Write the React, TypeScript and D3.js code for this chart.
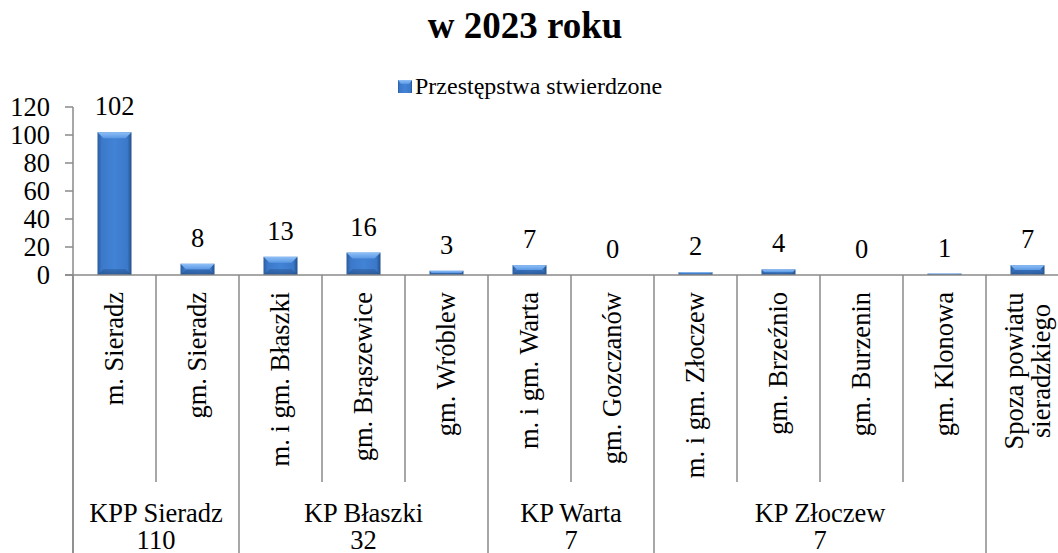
import React from "react";
import * as d3 from "d3";

const categories = [
  "m. Sieradz",
  "gm. Sieradz",
  "m. i gm. Błaszki",
  "gm. Brąszewice",
  "gm. Wróblew",
  "m. i gm. Warta",
  "gm. Gozczanów",
  "m. i gm. Złoczew",
  "gm. Brzeźnio",
  "gm. Burzenin",
  "gm. Klonowa",
  "Spoza powiatu\nsieradzkiego",
];
const values = [102, 8, 13, 16, 3, 7, 0, 2, 4, 0, 1, 7];
const groupNames = ["KPP Sieradz", "KP Błaszki", "KP Warta", "KP Złoczew", ""];
const groupTotals = ["110", "32", "7", "7", ""];
const groupSizes = [2, 3, 2, 4, 1];
const yTicks = [0, 20, 40, 60, 80, 100, 120];
const seriesName = "Przestępstwa stwierdzone";

const W = 1058;
const H = 553;
const font = "Liberation Serif";
const axisColor = "#8a8a8a";

export default function App() {
  const x = d3
    .scaleBand()
    .domain(categories)
    .range([73, 1069])
    .paddingInner(0)
    .paddingOuter(0);
  const y = d3.scaleLinear().domain([0, 120]).range([275, 107]);
  const step = x.step();
  const barW = 34;
  const y0 = y(0);

  // group boundaries
  let acc = 0;
  const groups = groupSizes.map((n, i) => {
    const start = acc;
    acc += n;
    const x0 = 73 + start * step;
    const x1 = 73 + acc * step;
    return { name: groupNames[i], total: groupTotals[i], x0, x1, start };
  });
  const groupStarts = new Set(groups.map((g) => g.start));

  const txt = { fontFamily: font, fontSize: 26.5 } as React.CSSProperties;

  return (
    <svg
      width={W}
      height={H}
      style={{ position: "absolute", left: 0, top: 0, background: "#fff", fontFamily: font }}
    >
      <defs>
        <linearGradient id="barBody" x1="0" x2="1" y1="0" y2="0">
          <stop offset="0%" stopColor="#2b5c9c" />
          <stop offset="12%" stopColor="#3b78c9" />
          <stop offset="50%" stopColor="#4283d6" />
          <stop offset="88%" stopColor="#3b78c9" />
          <stop offset="100%" stopColor="#244f88" />
        </linearGradient>
        <linearGradient id="barTop" x1="0" x2="0" y1="0" y2="1">
          <stop offset="0%" stopColor="#8fc0f7" />
          <stop offset="100%" stopColor="#5a97e3" />
        </linearGradient>
        <linearGradient id="barBottom" x1="0" x2="0" y1="0" y2="1">
          <stop offset="0%" stopColor="#2e62a6" />
          <stop offset="100%" stopColor="#1f4678" />
        </linearGradient>
      </defs>

      {/* title */}
      <text x={525} y={38} textAnchor="middle" style={{ fontFamily: font, fontSize: 37, fontWeight: "bold" }}>
        w 2023 roku
      </text>

      {/* legend */}
      <rect x={398} y={80} width={14} height={13} fill="url(#barBody)" />
      <polygon points="398,80 412,80 409,84 401,84" fill="url(#barTop)" />
      <text x={415} y={94} style={{ fontFamily: font, fontSize: 24 }}>
        {seriesName}
      </text>

      {/* y axis */}
      <line x1={73} x2={73} y1={y(120)} y2={H} stroke={axisColor} strokeWidth={1.5} />
      {yTicks.map((t) => (
        <g key={t}>
          <line x1={65} x2={73} y1={y(t)} y2={y(t)} stroke={axisColor} strokeWidth={1.5} />
          <text x={50} y={y(t)} dy="0.35em" textAnchor="end" style={txt}>
            {t}
          </text>
        </g>
      ))}

      {/* bars */}
      {categories.map((c, i) => {
        const bx = (x(c) as number) + (step - barW) / 2;
        const top = y(values[i]);
        const h = y0 - top;
        const bev = Math.min(6, h / 2);
        return (
          <g key={c}>
            {h > 0 && (
              <>
                <rect x={bx} y={top} width={barW} height={h} fill="url(#barBody)" />
                <polygon
                  points={`${bx},${top} ${bx + barW},${top} ${bx + barW - bev},${top + bev} ${bx + bev},${top + bev}`}
                  fill="url(#barTop)"
                />
                <polygon
                  points={`${bx + bev},${y0 - bev} ${bx + barW - bev},${y0 - bev} ${bx + barW},${y0} ${bx},${y0}`}
                  fill="url(#barBottom)"
                  opacity={0.6}
                />
              </>
            )}
            <text x={bx + barW / 2} y={top - 17} textAnchor="middle" style={txt}>
              {values[i]}
            </text>
          </g>
        );
      })}

      {/* x axis */}
      <line x1={65} x2={W} y1={y0} y2={y0} stroke={axisColor} strokeWidth={1.5} />
      {categories.map((c, i) => {
        const xl = x(c) as number;
        const isGroup = groupStarts.has(i);
        return (
          <line
            key={"sep" + i}
            x1={xl}
            x2={xl}
            y1={y0}
            y2={isGroup ? H : 482}
            stroke={axisColor}
            strokeWidth={1.5}
          />
        );
      })}

      {/* category labels */}
      {categories.map((c) => {
        const cx = (x(c) as number) + step / 2;
        const lines = c.split("\n");
        if (lines.length === 1) {
          return (
            <text
              key={"lbl" + c}
              transform={`translate(${cx},292) rotate(-90)`}
              textAnchor="end"
              dy="0.33em"
              style={txt}
            >
              {c}
            </text>
          );
        }
        return (
          <text
            key={"lbl" + c}
            transform={`translate(${cx},371) rotate(-90)`}
            textAnchor="middle"
            style={txt}
          >
            {lines.map((l, k) => (
              <tspan key={k} x={0} y={(k - (lines.length - 1) / 2) * 27 + 9}>
                {l}
              </tspan>
            ))}
          </text>
        );
      })}

      {/* group labels */}
      {groups.map((g, i) =>
        g.name ? (
          <g key={"g" + i}>
            <text x={(g.x0 + g.x1) / 2} y={522} textAnchor="middle" style={txt}>
              {g.name}
            </text>
            <text x={(g.x0 + g.x1) / 2} y={549} textAnchor="middle" style={txt}>
              {g.total}
            </text>
          </g>
        ) : null
      )}
    </svg>
  );
}
